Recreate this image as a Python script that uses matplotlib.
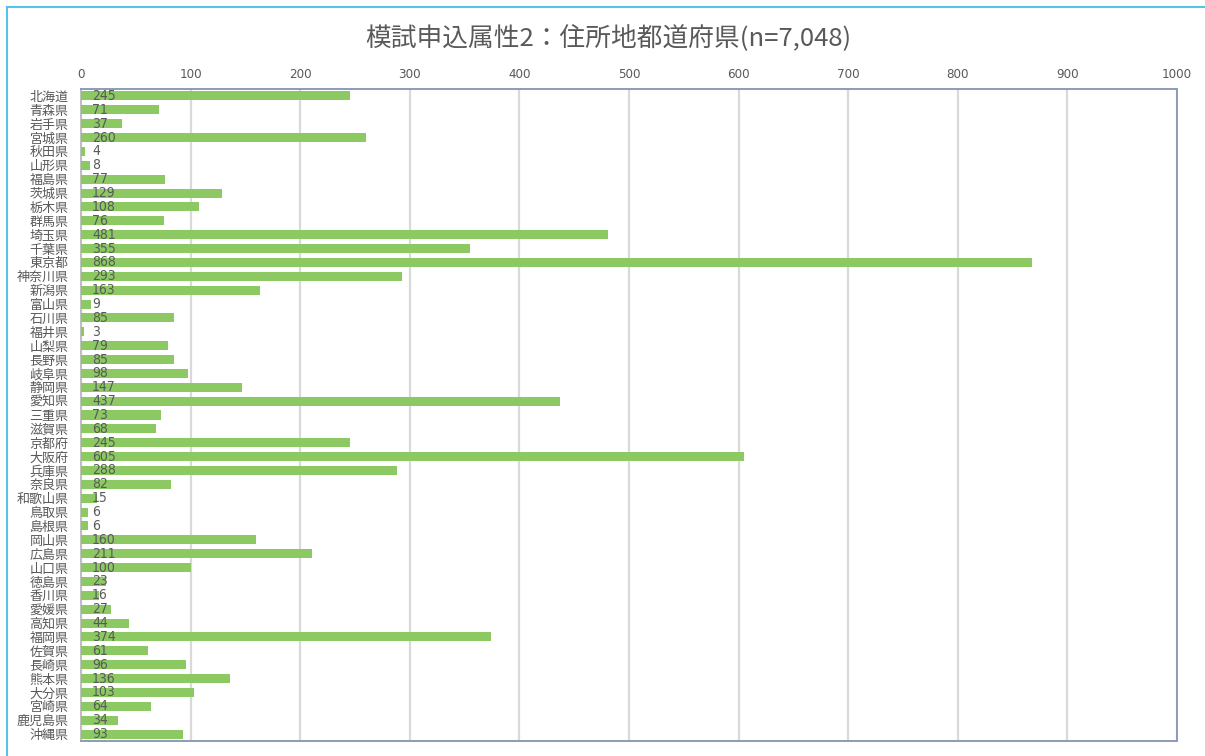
"""模試申込属性2：住所地都道府県 — 横棒グラフ."""

import matplotlib
matplotlib.use("Agg")
import matplotlib.pyplot as plt
from matplotlib.lines import Line2D
from matplotlib import font_manager

plt.rcParams["font.family"] = ["Noto Sans CJK JP", "DejaVu Sans"]

PREFS = [
    "北海道", "青森県", "岩手県", "宮城県", "秋田県", "山形県", "福島県",
    "茨城県", "栃木県", "群馬県", "埼玉県", "千葉県", "東京都", "神奈川県",
    "新潟県", "富山県", "石川県", "福井県", "山梨県", "長野県", "岐阜県",
    "静岡県", "愛知県", "三重県", "滋賀県", "京都府", "大阪府", "兵庫県",
    "奈良県", "和歌山県", "鳥取県", "島根県", "岡山県", "広島県", "山口県",
    "徳島県", "香川県", "愛媛県", "高知県", "福岡県", "佐賀県", "長崎県",
    "熊本県", "大分県", "宮崎県", "鹿児島県", "沖縄県",
]
COUNTS = [
    245, 71, 37, 260, 4, 8, 77,
    129, 108, 76, 481, 355, 868, 293,
    163, 9, 85, 3, 79, 85, 98,
    147, 437, 73, 68, 245, 605, 288,
    82, 15, 6, 6, 160, 211, 100,
    23, 16, 27, 44, 374, 61, 96,
    136, 103, 64, 34, 93,
]
XTICKS = list(range(0, 1001, 100))
TITLE = "模試申込属性2：住所地都道府県(n=7,048)"

GREEN = "#8CC963"
TEXT = "#595959"
FRAME = "#8C9CB5"
GRID = "#D9D9D9"

# narrow face for the numbers, if one is around
names = {f.name for f in font_manager.fontManager.ttflist}
if "Liberation Sans Narrow" in names:
    NUM = dict(family="Liberation Sans Narrow")
else:
    NUM = dict(family="DejaVu Sans", fontstretch="condensed")

fig = plt.figure(figsize=(12.05, 7.56), dpi=100)
ax = fig.add_axes([81 / 1205, 1 - 741 / 756, (1177 - 81) / 1205, (741 - 89) / 756])

ypos = list(range(len(PREFS)))
ax.barh(ypos, COUNTS, height=0.65, color=GREEN, zorder=3)

for y, v in zip(ypos, COUNTS):
    ax.annotate(str(v), xy=(0, y), xytext=(8, 0), textcoords="offset points",
                ha="left", va="center", fontsize=10, color=TEXT, zorder=4, **NUM)

ax.set_xlim(0, 1000)
ax.set_ylim(len(PREFS) - 0.5, -0.5)
ax.set_xticks(XTICKS)
ax.set_xticklabels([str(t) for t in XTICKS], fontsize=9.5, color=TEXT, **NUM)
ax.xaxis.tick_top()
ax.tick_params(axis="x", length=0, pad=6)
ax.set_yticks(ypos)
ax.set_yticklabels(PREFS, fontsize=9.4, color=TEXT)
ax.tick_params(axis="y", length=0, pad=9)

ax.grid(axis="x", color=GRID, linewidth=1.6, zorder=0)
for s in ["top", "right", "bottom"]:
    ax.spines[s].set_color(FRAME)
    ax.spines[s].set_linewidth(1.4)
ax.spines["left"].set_color("#BFBFBF")
ax.spines["left"].set_linewidth(1.4)

fig.text(608 / 1205, 1 - 38 / 756, TITLE, ha="center", va="center",
         fontsize=18.5, color=TEXT)

# chart frame (light blue border, cropped on right/bottom)
fx = 7 / 1205
fy = 1 - 7 / 756
fig.add_artist(Line2D([fx, fx], [0, fy], transform=fig.transFigure,
                      color="#5BC0EB", linewidth=1.5))
fig.add_artist(Line2D([fx, 1], [fy, fy], transform=fig.transFigure,
                      color="#5BC0EB", linewidth=1.5))

fig.savefig("out.png", dpi=100)
